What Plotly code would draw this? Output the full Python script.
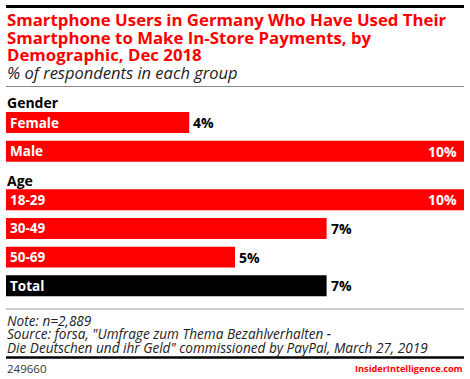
import plotly.graph_objects as go

# ---- data ----
groups = ["Gender", "Gender", "Age", "Age", "Age", None]
categories = ["Female", "Male", "18-29", "30-49", "50-69", "Total"]
values = [4, 10, 10, 7, 5, 7]
value_labels = ["4%", "10%", "10%", "7%", "5%", "7%"]

title_lines = [
    "Smartphone Users in Germany Who Have Used Their",
    "Smartphone to Make In-Store Payments, by",
    "Demographic, Dec 2018",
]
subtitle = "% of respondents in each group"
notes = [
    "Note: n=2,889",
    "Source: forsa, \"Umfrage zum Thema Bezahlverhalten -",
    "Die Deutschen und ihr Geld\" commissioned by PayPal, March 27, 2019",
]
chart_id = "249660"
brand = "InsiderIntelligence.com"

# ---- layout helpers ----
W, H = 470, 379
RED = "#ff0000"
FONT = "Open Sans"
PITCH = 28.7          # px per row
ROW0_PX = 122.5       # px centre of the first bar
HEADER_GAP = 0.69     # extra rows taken by a group header
XMAX = 10

def py(p):            # figure px (from top) -> paper y
    return 1 - p / H

def px(p):
    return p / W

# row positions from the grouping structure
ypos, headers = [], []
off = 0.0
prev = "__start__"
for i, g in enumerate(groups):
    if g != prev and g is not None:
        if i > 0:
            off += HEADER_GAP
        headers.append((g, i + off - 0.68))
    prev = g
    ypos.append(i + off)

colors = ["#000000" if c == "Total" else RED for c in categories]

fig = go.Figure(go.Bar(
    x=values, y=ypos, orientation="h", width=0.73,
    marker=dict(color=colors, line=dict(width=0)),
    hoverinfo="skip",
))

ann = []
# title
for i, t in enumerate(title_lines):
    ann.append(dict(text=f"<b>{t}</b>", x=px(5), y=py(20 + i * 17.5),
                    xanchor="left", yanchor="middle",
                    font=dict(family=FONT, size=16.8, color=RED)))
ann.append(dict(text=f"<i>{subtitle}</i>", x=px(5), y=py(73),
                xanchor="left", yanchor="middle",
                font=dict(family=FONT, size=16.5, color="#222222")))
# group headers
for name, yy in headers:
    ann.append(dict(text=f"<b>{name}</b>", x=0, y=yy, xref="x", yref="y",
                    xanchor="left", yanchor="middle", xshift=-1,
                    font=dict(family=FONT, size=14, color="#000000")))
# bar labels
for c, v, lab, yy in zip(categories, values, value_labels, ypos):
    ann.append(dict(text=f"<b>{c}</b>", x=0, y=yy, xref="x", yref="y",
                    xanchor="left", yanchor="middle", xshift=2,
                    font=dict(family=FONT, size=13.5, color="#ffffff")))
    inside = v >= XMAX
    ann.append(dict(text=f"<b>{lab}</b>", x=v, y=yy, xref="x", yref="y",
                    xanchor="right" if inside else "left", yanchor="middle",
                    xshift=-5 if inside else 2,
                    font=dict(family=FONT, size=14,
                              color="#ffffff" if inside else "#000000")))
# notes
for i, t in enumerate(notes):
    ann.append(dict(text=f"<i>{t}</i>", x=px(5), y=py(320 + i * 13.6),
                    xanchor="left", yanchor="middle",
                    font=dict(family=FONT, size=13.6, color="#222222")))
ann.append(dict(text=chart_id, x=px(5), y=py(368), xanchor="left", yanchor="middle",
                font=dict(family=FONT, size=11.5, color="#333333")))
ann.append(dict(text=f"<b>{brand}</b>", x=px(465), y=py(368.5), xanchor="right",
                yanchor="middle", font=dict(family=FONT, size=9.2, color=RED)))
for a in ann:
    a.setdefault("xref", "paper")
    a.setdefault("yref", "paper")
    a["showarrow"] = False

shapes = [
    dict(type="line", x0=px(6), x1=px(464), y0=py(6.5), y1=py(6.5),
         line=dict(color="#000000", width=3)),
    dict(type="line", x0=px(6), x1=px(464), y0=py(86.5), y1=py(86.5),
         line=dict(color="#888888", width=1)),
    dict(type="line", x0=px(6), x1=px(464), y0=py(309), y1=py(309),
         line=dict(color="#999999", width=1)),
    dict(type="line", x0=px(6), x1=px(464), y0=py(357.5), y1=py(357.5),
         line=dict(color="#000000", width=2.5)),
]
for s in shapes:
    s["xref"] = "paper"
    s["yref"] = "paper"

top_r = -ROW0_PX / PITCH
bot_r = (H - ROW0_PX) / PITCH

fig.update_layout(
    width=W, height=H,
    margin=dict(l=0, r=0, t=0, b=0),
    paper_bgcolor="#ffffff", plot_bgcolor="#ffffff",
    showlegend=False,
    xaxis=dict(domain=[px(6), px(464)], range=[0, XMAX], visible=False, fixedrange=True),
    yaxis=dict(domain=[0, 1], range=[bot_r, top_r], visible=False, fixedrange=True),
    annotations=ann, shapes=shapes,
    font=dict(family=FONT),
)

fig.write_html("out.html", config={"displayModeBar": False},
               post_script="document.body.style.margin='0';document.body.style.overflow='hidden';")
